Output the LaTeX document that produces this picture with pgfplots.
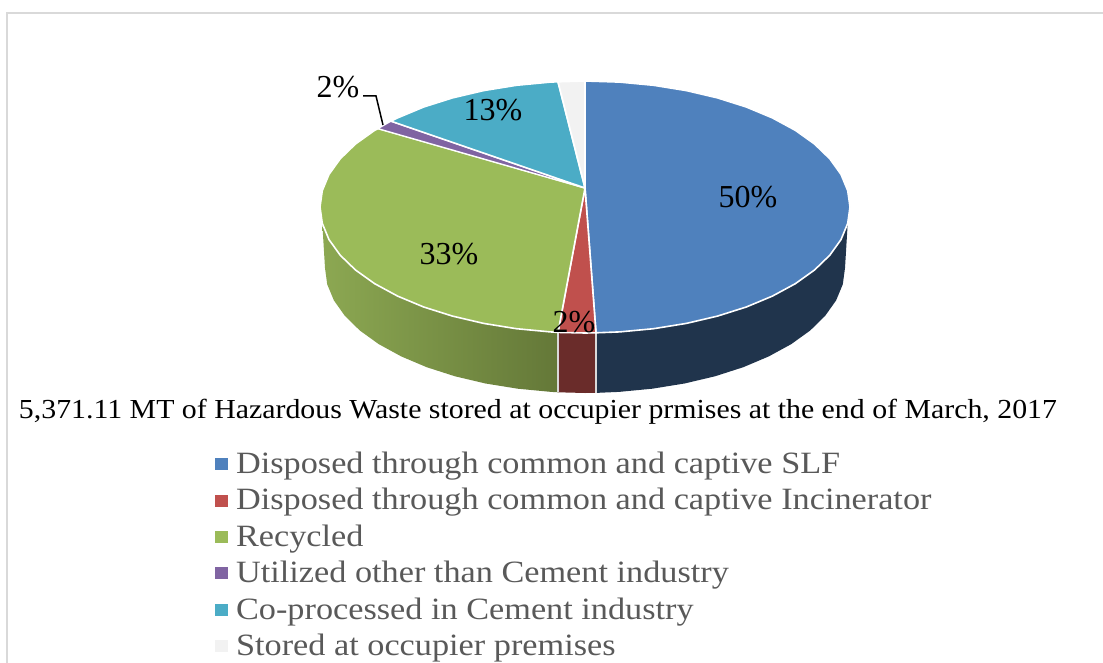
\documentclass[border=0pt]{standalone}
\usepackage{fontspec}
\setmainfont{Liberation Serif}
\newfontfamily\legfont[FakeStretch=1.105]{Liberation Serif}
\newfontfamily\titlefont[FakeStretch=1.085]{Liberation Serif}
\usepackage{pgfplots}
\pgfplotsset{compat=1.18}
\definecolor{cblue}{HTML}{4F81BD}
\definecolor{cred}{HTML}{C0504D}
\definecolor{cgreen}{HTML}{9BBB59}
\definecolor{cpurple}{HTML}{8064A2}
\definecolor{cteal}{HTML}{4BACC6}
\definecolor{clight}{HTML}{F2F2F2}
\definecolor{sideL}{HTML}{8CA852}
\definecolor{sideR}{HTML}{647838}
\begin{document}
\begin{tikzpicture}
\path[use as bounding box] (0,0) rectangle (1103pt,663pt);
\begin{axis}[
  scale only axis, width=1103pt, height=663pt,
  xmin=0, xmax=1103, ymin=0, ymax=663, y dir=reverse,
  hide axis, clip=false, no marks,
  legend style={at={(0.195,0.322)}, anchor=north west, draw=none, fill=none,
    font=\legfont\fontsize{31}{31}\selectfont, text=black!65,
    row sep=0pt, inner sep=0pt, outer sep=0pt,
    nodes={inner sep=0pt, text height=24pt, text depth=12.4pt}},
  legend cell align=left,
  legend image code/.code={\fill[draw=none,#1] (0pt,-2.5pt) rectangle (13pt,9.5pt); \path[draw=none,fill=none] (0pt,0pt) -- (21pt,0pt);},
]
% frame
\addplot[forget plot, color=black!15, line width=2.5pt] coordinates {(7,663) (7,13) (1103,13)};

% side walls
\addplot[forget plot, draw=none, left color=sideL, right color=sideR] coordinates {
  (558,332.4) (550.4,331.9) (516.4,328.7) (483.6,323.4) (452.5,316.1) (423.7,307) (397.6,296.1)
  (374.7,283.7) (355.5,270) (340.2,255.2) (329,239.6) (322.3,223.4)
  (325,268) (327.2,284.3) (333.9,300.4) (344.8,315.8) (359.8,330.5) (378.7,344.1) (401.2,356.4)
  (426.7,367.2) (455,376.3) (485.5,383.5) (517.7,388.7) (551.1,391.9) (558,392.3)} -- cycle;
\addplot[forget plot, draw=none, fill=cred!55!black] coordinates {
  (558,332.4) (585,333) (596,332.8) (596,392.9) (585,393) (558,392.3)} -- cycle;
\addplot[forget plot, draw=none, fill=cblue!40!black] coordinates {
  (596,332.8) (619.6,331.9) (653.6,328.7) (686.4,323.4) (717.5,316.1) (746.3,307) (772.4,296.1)
  (795.3,283.7) (814.5,270) (829.8,255.2) (841,239.6) (847.7,223.4)
  (845,268) (842.8,284.3) (836.1,300.4) (825.2,315.8) (810.2,330.5) (791.3,344.1) (768.8,356.4)
  (743.3,367.2) (715,376.3) (684.5,383.5) (652.3,388.7) (618.9,391.9) (596,392.9)} -- cycle;
\addplot[forget plot, color=white!85!black, line width=1.8pt] coordinates {(558,332.4) (558,392.3)};
\addplot[forget plot, color=white!85!black, line width=1.8pt] coordinates {(596,332.8) (596,392.9)};

% top slices
\addplot[forget plot, fill=cblue, draw=white, line width=1.6pt] coordinates {
  (585,188) (585,81) (619.6,82.1) (653.6,85.3) (686.4,90.6) (717.5,97.9) (746.3,107) (772.4,117.9)
  (795.3,130.3) (814.5,144) (829.8,158.8) (841,174.4) (847.7,190.6) (850,207)
  (847.7,223.4) (841,239.6) (829.8,255.2) (814.5,270) (795.3,283.7) (772.4,296.1) (746.3,307)
  (717.5,316.1) (686.4,323.4) (653.6,328.7) (619.6,331.9) (596,332.8)} -- cycle;
\addplot[forget plot, fill=cred, draw=white, line width=1.6pt] coordinates {
  (585,188) (596,332.8) (585,333) (558,332.4)} -- cycle;
\addplot[forget plot, fill=cgreen, draw=white, line width=1.6pt] coordinates {
  (585,188) (558,332.4) (550.4,331.9) (516.4,328.7) (483.6,323.4) (452.5,316.1) (423.7,307) (397.6,296.1)
  (374.7,283.7) (355.5,270) (340.2,255.2) (329,239.6) (322.3,223.4) (320,207) (322.3,190.6)
  (329,174.4) (340.2,158.8) (355.5,144) (374.7,130.3) (378,128.6)} -- cycle;
\addplot[forget plot, fill=cpurple, draw=white, line width=1.2pt] coordinates {
  (585,188) (378,128.6) (391,121.2)} -- cycle;
\addplot[forget plot, fill=cteal, draw=white, line width=1.6pt] coordinates {
  (585,188) (391,121.2) (397.6,117.9) (423.7,107) (452.5,97.9) (483.6,90.6) (516.4,85.3) (550.4,82.1) (558,81.8)} -- cycle;
\addplot[forget plot, fill=clight, draw=white, line width=1.6pt] coordinates {
  (585,188) (558,81.8) (585,81)} -- cycle;

% leader line of the small slice
\addplot[forget plot, color=black, line width=1.5pt] coordinates {(363,96) (376,96) (383,125)};

% legend
\addlegendimage{fill=cblue}
\addlegendentry{Disposed through common and captive SLF}
\addlegendimage{fill=cred}
\addlegendentry{Disposed through common and captive Incinerator}
\addlegendimage{fill=cgreen}
\addlegendentry{Recycled}
\addlegendimage{fill=cpurple}
\addlegendentry{Utilized other than Cement industry}
\addlegendimage{fill=cteal}
\addlegendentry{Co-processed in Cement industry}
\addlegendimage{fill=clight}
\addlegendentry{Stored at occupier premises}

% labels
\node[font=\fontsize{32}{32}\selectfont] at (axis cs:748,197) {50\%};
\node[font=\fontsize{32}{32}\selectfont] at (axis cs:493,110) {13\%};
\node[font=\fontsize{32}{32}\selectfont] at (axis cs:449,254) {33\%};
\node[font=\fontsize{32}{32}\selectfont] at (axis cs:574,322) {2\%};
\node[font=\fontsize{32}{32}\selectfont] at (axis cs:338,87) {2\%};
\node[font=\titlefont\fontsize{27.5}{27.5}\selectfont] at (axis cs:538,412) {5,371.11 MT of Hazardous Waste stored at occupier prmises at the end of March, 2017};
\end{axis}
\end{tikzpicture}
\end{document}
